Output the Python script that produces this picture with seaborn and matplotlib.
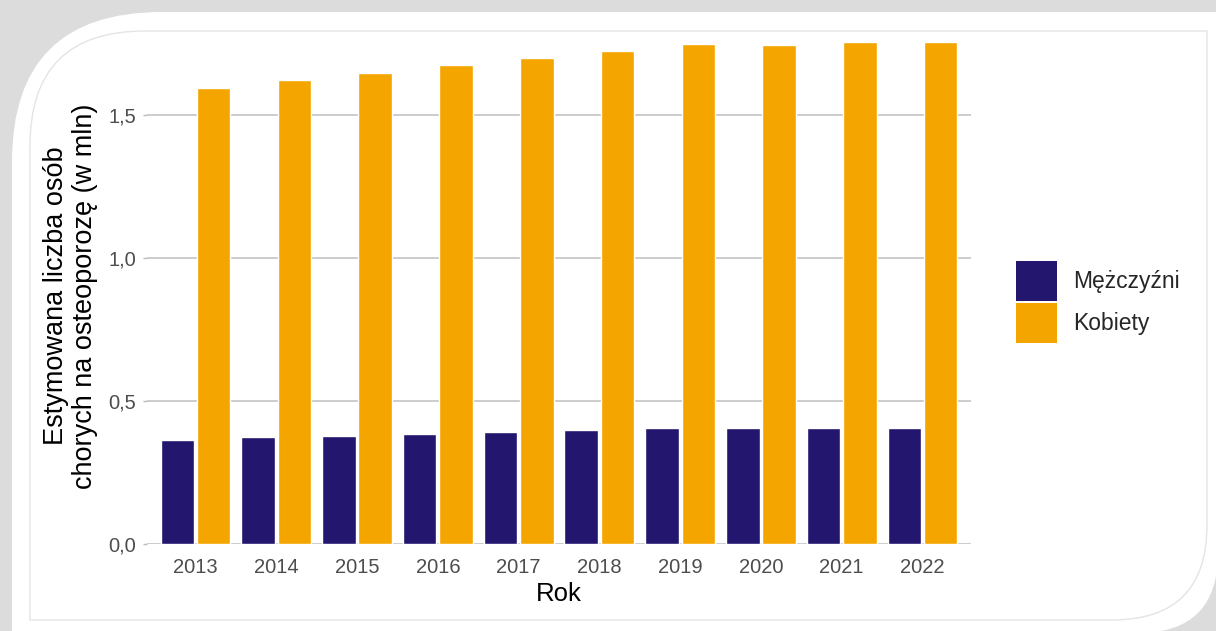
import numpy as np
import pandas as pd
import matplotlib
matplotlib.use("Agg")
import matplotlib.pyplot as plt
from matplotlib.path import Path
from matplotlib.patches import PathPatch, Patch
import seaborn as sns

# ---- data ----
years = ["2013", "2014", "2015", "2016", "2017", "2018", "2019", "2020", "2021", "2022"]
men = [0.365, 0.373, 0.379, 0.386, 0.392, 0.397, 0.404, 0.404, 0.404, 0.404]
women = [1.595, 1.622, 1.645, 1.673, 1.698, 1.721, 1.746, 1.742, 1.753, 1.753]
series_names = ["Mężczyźni", "Kobiety"]
ytick_vals = [0.0, 0.5, 1.0, 1.5]
ytick_labels = ["0,0", "0,5", "1,0", "1,5"]
x_title = "Rok"
y_title = "Estymowana liczba osób\nchorych na osteoporozę (w mln)"

colors = ["#22166E", "#F5A500"]

df = pd.DataFrame({
    "Rok": years * 2,
    "val": men + women,
    "Płeć": [series_names[0]] * len(years) + [series_names[1]] * len(years),
})

sns.set_theme(style="white")
plt.rcParams["font.family"] = ["Liberation Sans", "DejaVu Sans"]

W, H = 1216, 631
fig = plt.figure(figsize=(W / 100, H / 100), dpi=100)
fig.patch.set_facecolor("#dcdcdc")

# ---- decorative card background ----
bg = fig.add_axes([0, 0, 1, 1], zorder=-5)
bg.set_xlim(0, W)
bg.set_ylim(H, 0)
bg.axis("off")


def card_path(x0, y0, x1, y1, r1, r2):
    verts = [
        (x0 + r1, y0), (x1, y0), (x1, y1 - r2), (x1, y1), (x1 - r2, y1),
        (x0, y1), (x0, y0 + r1), (x0, y0), (x0 + r1, y0), (x0 + r1, y0),
    ]
    codes = [
        Path.MOVETO, Path.LINETO, Path.LINETO, Path.CURVE3, Path.CURVE3,
        Path.LINETO, Path.LINETO, Path.CURVE3, Path.CURVE3, Path.CLOSEPOLY,
    ]
    return Path(verts, codes)


bg.add_patch(PathPatch(card_path(12, 12, W + 2, H + 2, 150, 80),
                       facecolor="white", edgecolor="none"))
bg.add_patch(PathPatch(card_path(30, 31, 1207, 620, 115, 95),
                       facecolor="none", edgecolor="#e4e4e4", lw=1.0))

# ---- main chart ----
ax = fig.add_axes([147 / W, 1 - 544 / H, (971 - 147) / W, (544 - 26) / H])
ax.patch.set_visible(False)
sns.barplot(data=df, x="Rok", y="val", hue="Płeć", palette=colors,
            width=0.9, gap=0.08, ax=ax, legend=False, saturation=1)

ax.set_xlim(-0.6, len(years) - 0.4)
ax.set_ylim(0, 1.81)
ax.set_yticks(ytick_vals)
ax.set_yticklabels(ytick_labels)
ax.yaxis.grid(True, color="#cccccc", lw=1.4)
ax.xaxis.grid(False)
ax.set_axisbelow(True)
for s in ax.spines.values():
    s.set_visible(False)

ax.tick_params(axis="x", length=0, pad=10, labelsize=14.5, labelcolor="#4d4d4d")
ax.tick_params(axis="y", length=3, width=1, color="#bbbbbb", pad=5,
               labelsize=14.5, labelcolor="#4d4d4d", left=True)

ax.set_xlabel(x_title, fontsize=18.5, color="black")
ax.xaxis.set_label_coords(0.5, -0.073)
ax.set_ylabel(y_title, fontsize=19.5, color="black", linespacing=1.15)
ax.yaxis.set_label_coords(-0.059, 0.479)

handles = [Patch(facecolor=c, edgecolor="none") for c in colors]
fig.legend(handles, series_names, loc="center left",
           bbox_to_anchor=(1007 / W, 1 - 302 / H), frameon=False,
           fontsize=16.5, handlelength=1.79, handleheight=2.3,
           labelspacing=0.12, handletextpad=0.7, borderaxespad=0)

fig.savefig("out.png", dpi=100, facecolor=fig.get_facecolor())
